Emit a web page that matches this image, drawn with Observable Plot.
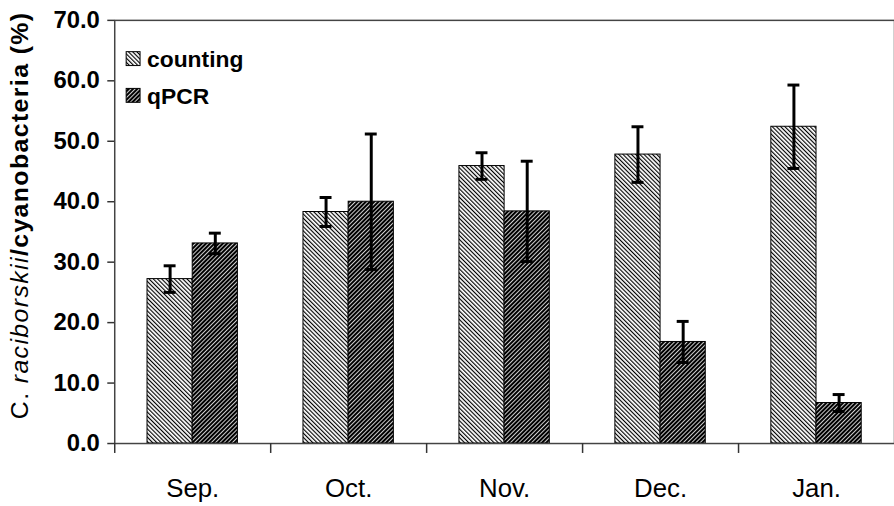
<!DOCTYPE html>
<html><head><meta charset="utf-8">
<script src="https://cdn.jsdelivr.net/npm/d3@7"></script>
<script src="https://cdn.jsdelivr.net/npm/@observablehq/plot@0.6"></script>
<style>
html,body{margin:0;padding:0;overflow:hidden;background:#fff;width:894px;height:506px}
</style>
</head><body><div id="chart"></div>
<script>
// ---- data ----
const months = ["Sep.", "Oct.", "Nov.", "Dec.", "Jan."];
const countingMean = [27.2, 38.3, 45.9, 47.8, 52.4];
const countingErr  = [2.2, 2.4, 2.2, 4.6, 6.9];
const qpcrMean = [33.1, 40.0, 38.4, 16.8, 6.7];
const qpcrErr  = [1.7, 11.2, 8.3, 3.4, 1.4];
const yTicks = [0, 10, 20, 30, 40, 50, 60, 70];
const seriesNames = ["counting", "qPCR"];

const counting = months.map((m, i) => ({month: m, value: countingMean[i], err: countingErr[i]}));
const qpcr = months.map((m, i) => ({month: m, value: qpcrMean[i], err: qpcrErr[i]}));

const font = "'Liberation Sans', Arial, Helvetica, sans-serif";
const half = 22.75;   // half bar width (px)
const capInset = 72.5;

function errMarks(rows, dx) {
  return [
    Plot.ruleX(rows, {x: "month", y1: d => d.value - d.err, y2: d => d.value + d.err, dx, stroke: "#000", strokeWidth: 3}),
    Plot.tickY(rows, {x: "month", y: d => d.value + d.err, dx, insetLeft: capInset, insetRight: capInset, stroke: "#000", strokeWidth: 3}),
    Plot.tickY(rows, {x: "month", y: d => d.value - d.err, dx, insetLeft: capInset, insetRight: capInset, stroke: "#000", strokeWidth: 3})
  ];
}

const chart = Plot.plot({
  width: 900,
  height: 506,
  marginLeft: 115,
  marginRight: 0,
  marginTop: 20,
  marginBottom: 60,
  style: {fontFamily: font, background: "#fff", color: "#000"},
  x: {domain: months, padding: 0, axis: null},
  y: {domain: [0, 70], axis: null},
  marks: [
    Plot.barY(counting, {x: "month", y: "value", fill: "url(#hatchCounting)", stroke: "#000", strokeWidth: 1, insetLeft: 33, insetRight: 78.5}),
    Plot.barY(qpcr, {x: "month", y: "value", fill: "url(#hatchQpcr)", stroke: "#000", strokeWidth: 1, insetLeft: 78.5, insetRight: 33}),
    ...errMarks(counting, -half),
    ...errMarks(qpcr, half),
    Plot.frame({stroke: "#444", strokeWidth: 1.5}),
    Plot.axisY({ticks: yTicks, tickFormat: d => d.toFixed(1), tickSize: 7, tickPadding: 8, fontSize: 24, fontWeight: "bold", stroke: "#333", strokeWidth: 1.5, label: null}),
    Plot.axisX({tickSize: 10, tickFormat: () => "", dx: -78.5, stroke: "#333", strokeWidth: 1.5, label: null}),
    Plot.axisX({tickSize: 0, tickPadding: 35, fontSize: 26, label: null})
  ]
});

document.getElementById("chart").appendChild(chart);

const svg = d3.select(chart);
const defs = svg.insert("defs", ":first-child");
function hatch(id, bg, fg, lineW, angle) {
  const p = defs.append("pattern").attr("id", id).attr("patternUnits", "userSpaceOnUse")
    .attr("width", 3).attr("height", 3).attr("patternTransform", `rotate(${angle})`);
  p.append("rect").attr("width", 3).attr("height", 3).attr("fill", bg);
  p.append("rect").attr("width", lineW).attr("height", 3).attr("fill", fg);
}
hatch("hatchCounting", "#fff", "#000", 1.15, -45);
hatch("hatchQpcr", "#000", "#fff", 0.8, 45);

// legend
const legend = svg.append("g").attr("font-family", font).attr("font-size", 23).attr("font-weight", "bold").attr("text-anchor", "start");
const fills = ["url(#hatchCounting)", "url(#hatchQpcr)"];
seriesNames.forEach((name, i) => {
  const yc = 59 + i * 37;
  legend.append("rect").attr("x", 127).attr("y", yc - 7).attr("width", 14).attr("height", 14)
    .attr("fill", fills[i]).attr("stroke", "#000").attr("stroke-width", 1);
  legend.append("text").attr("x", 148).attr("y", yc).attr("dy", "0.36em").attr("text-anchor", "start").text(name);
});

// y-axis title
const title = svg.append("text")
  .attr("transform", "translate(28,217.5) rotate(-90)")
  .attr("text-anchor", "middle")
  .attr("font-family", font)
  .attr("font-size", 25)
  .attr("textLength", 409)
  .attr("lengthAdjust", "spacing");
title.append("tspan").text("C. ");
title.append("tspan").attr("font-style", "italic").text("raciborskii");
title.append("tspan").attr("font-weight", "bold").text("/cyanobacteria (%)");
</script>
</body></html>
